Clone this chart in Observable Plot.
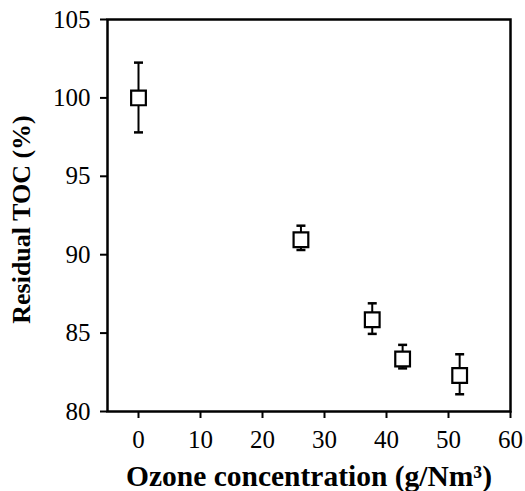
<!DOCTYPE html>
<html>
<head>
<meta charset="utf-8">
<script src="https://cdn.jsdelivr.net/npm/d3@7"></script>
<script src="https://cdn.jsdelivr.net/npm/@observablehq/plot@0.6"></script>
<style>
  html, body { margin: 0; padding: 0; background: #fff; }
</style>
</head>
<body>
<div id="chart"></div>
<script>
// Data
const ozone = [0, 26.2, 37.7, 42.6, 51.8];
const toc = [100.0, 90.95, 85.85, 83.35, 82.3];
const errHigh = [102.25, 91.85, 86.9, 84.25, 83.65];
const errLow = [97.8, 90.3, 84.95, 82.75, 81.1];
const xTicks = [0, 10, 20, 30, 40, 50, 60];
const yTicks = [80, 85, 90, 95, 100, 105];

const data = ozone.map((x, i) => ({x, y: toc[i], hi: errHigh[i], lo: errLow[i]}));

const cap = {
  draw(ctx, size) {
    const w = Math.sqrt(size / Math.PI);
    ctx.moveTo(-w, 0);
    ctx.lineTo(w, 0);
  }
};

const chart = Plot.plot({
  width: 525,
  height: 491,
  marginLeft: 107,
  marginTop: 19,
  marginBottom: 80,
  marginRight: 15,
  style: {fontFamily: "'Liberation Serif', 'Times New Roman', serif", fontSize: "25px", color: "#000", background: "#fff"},
  x: {domain: [-5, 60], ticks: xTicks, tickSize: 7, tickPadding: 12,
      label: "Ozone concentration (g/Nm³)", labelAnchor: "center", labelArrow: "none", labelOffset: 74},
  y: {domain: [80, 105], ticks: yTicks, tickSize: 7, tickPadding: 10,
      label: "Residual TOC (%)", labelAnchor: "center", labelArrow: "none", labelOffset: 96},
  marks: [
    Plot.frame({stroke: "#000", strokeWidth: 2.5}),
    Plot.ruleX(data, {x: "x", y1: "lo", y2: "hi", stroke: "#000", strokeWidth: 2}),
    Plot.dot(data, {x: "x", y: "hi", symbol: cap, r: 4.5, stroke: "#000", strokeWidth: 2.5}),
    Plot.dot(data, {x: "x", y: "lo", symbol: cap, r: 4.5, stroke: "#000", strokeWidth: 2.5}),
    Plot.dot(data, {x: "x", y: "y", symbol: "square", r: 8.3, fill: "#fff", stroke: "#000", strokeWidth: 2.2})
  ]
});

// style axes: tick strokes and bold labels
chart.querySelectorAll('[aria-label="x-axis tick"], [aria-label="y-axis tick"]').forEach(g => {
  g.setAttribute("stroke-width", "2");
  g.setAttribute("stroke", "#000");
});
chart.querySelectorAll('[aria-label="x-axis label"]').forEach(g => {
  g.setAttribute("font-weight", "bold");
  g.setAttribute("font-size", "29.5px");
});
chart.querySelectorAll('[aria-label="y-axis label"]').forEach(g => {
  g.setAttribute("font-weight", "bold");
  g.setAttribute("font-size", "26px");
  g.setAttribute("transform", "translate(0,4) " + (g.getAttribute("transform") || ""));
});
document.getElementById("chart").appendChild(chart);
</script>
</body>
</html>
